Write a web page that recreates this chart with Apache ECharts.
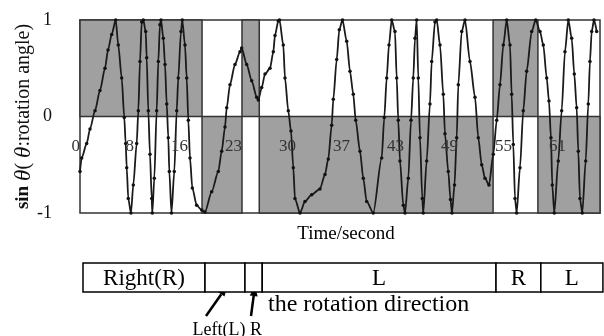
<!DOCTYPE html>
<html>
<head>
<meta charset="utf-8">
<script src="https://cdn.jsdelivr.net/npm/echarts@6/dist/echarts.min.js"></script>
<style>
  html, body { margin: 0; padding: 0; background: #fff; }
  #chart { width: 604px; height: 336px; }
</style>
</head>
<body>
<div id="chart"></div>
<script>
// x is measured in samples, 10 samples between two time labels
const xTickLabels = ['0', '8', '16', '23', '30', '37', '43', '49', '55', '61']
const yTickLabels = { '-1': '-1', '0': '0', '1': '1' }

// rotation direction changes (sample positions) and the direction of each part
const dirChanges = [0, 22.6, 30.0, 33.2, 76.5, 84.8, 96.3]
const dirNames = ['R', 'L', 'R', 'L', 'R', 'L']
const barLabels = ['Right(R)', '', '', 'L', 'R', 'L']

// sin(theta)
const sinTrace = [
  [0, -0.57], [0.31, -0.43], [1.24, -0.28], [1.85, -0.13], [2.78, 0.06], [3.70, 0.27], [4.63, 0.50], [5.19, 0.69], [5.87, 0.85], [6.61, 1.00],
  [7.09, 0.74], [7.72, 0.40], [8.20, -0.01], [8.46, -0.28], [8.65, -0.53], [8.94, -0.85], [9.44, -1.00],
  [9.87, -0.71], [10.50, -0.28], [10.80, 0.06], [11.11, 0.57], [11.43, 0.98], [11.72, 1.00],
  [12.17, 0.88], [12.35, 0.61], [12.65, 0.06], [12.96, -0.39], [13.28, -0.85], [13.39, -1.00],
  [13.76, -0.64], [14.20, 0.06], [14.50, 0.57], [14.81, 0.95], [15.00, 1.00],
  [15.43, 0.81], [15.74, 0.54], [16.06, 0.13], [16.35, -0.22], [16.54, -0.57], [16.94, -1.00],
  [17.46, -0.57], [17.91, 0.06], [18.20, 0.40], [18.70, 0.88], [18.94, 1.00],
  [19.44, 0.74], [19.76, 0.40], [20.06, -0.04], [20.37, -0.43], [20.80, -0.74], [21.61, -0.92], [22.54, -0.97], [23.15, -0.99],
  [24.39, -0.78], [25.61, -0.57], [26.24, -0.36], [26.85, -0.11], [27.17, 0.09], [27.78, 0.33], [28.70, 0.54], [29.63, 0.67], [29.94, 0.71],
  [30.87, 0.54], [31.80, 0.37], [32.72, 0.20], [33.02, 0.17],
  [33.65, 0.30], [34.26, 0.44], [35.19, 0.50], [35.80, 0.67], [36.11, 0.84], [36.72, 0.99], [36.94, 1.00],
  [37.65, 0.74], [37.96, 0.40], [38.57, 0.06], [39.07, -0.15], [39.50, -0.53], [39.81, -0.85], [40.74, -1.00],
  [41.67, -0.88], [42.91, -0.81], [44.44, -0.75], [45.37, -0.60], [45.98, -0.44], [46.61, -0.09], [46.91, 0.18], [47.54, 0.59], [48.02, 0.90], [48.61, 1.00],
  [49.39, 0.78], [50.00, 0.47], [50.61, 0.23], [51.06, -0.04], [51.85, -0.36], [52.46, -0.64], [53.09, -0.88], [54.31, -1.00],
  [55.87, -0.43], [56.35, -0.01], [56.80, 0.40], [57.22, 0.74], [57.72, 1.00],
  [58.33, 0.88], [58.65, 0.40], [58.94, -0.04], [59.26, -0.46], [59.87, -0.92], [60.19, -1.00],
  [60.80, -0.64], [61.30, -0.04], [61.72, 0.40], [62.04, 0.81], [62.35, 1.00],
  [62.65, 0.40], [62.96, -0.22], [63.39, -0.85], [63.57, -1.00],
  [64.20, -0.46], [64.81, 0.13], [65.13, 0.57], [65.74, 0.98], [66.06, 1.00],
  [66.67, 0.74], [67.28, 0.23], [67.59, -0.18], [68.20, -0.57], [68.61, -0.86], [68.89, -1.00],
  [69.35, -0.71], [69.76, -0.22], [70.06, 0.33], [70.69, 0.88], [71.30, 1.00],
  [72.22, 0.57], [73.15, 0.20], [73.76, -0.22], [74.39, -0.50], [75.00, -0.64], [75.74, -0.71],
  [76.54, -0.39], [77.17, -0.04], [77.78, 0.33], [78.39, 0.74], [79.02, 1.00],
  [79.63, 0.74], [79.94, 0.23], [80.24, -0.29], [80.56, -0.85], [80.87, -1.00],
  [81.48, -0.53], [82.09, 0.06], [82.72, 0.47], [83.65, 0.88], [84.39, 1.00],
  [85.19, 0.88], [85.80, 0.74], [86.43, 0.40], [86.85, 0.16], [87.22, -0.22], [87.46, -0.71], [87.83, -1.00],
  [88.57, -0.46], [89.20, 0.06], [89.81, 0.67], [90.43, 1.00],
  [91.06, 0.81], [91.54, 0.44], [91.98, 0.09], [92.28, -0.36], [92.59, -0.85], [93.02, -1.00],
  [93.65, -0.46], [94.13, 0.13], [94.44, 0.57], [94.76, 0.88], [95.19, 1.00], [95.69, 0.88]
]

const serif = '"Liberation Serif", "DejaVu Serif", serif'

// shaded half: upper half while turning right, lower half while turning left
const shadeAreas = dirNames.map((d, i) => {
  const a = dirChanges[i]
  const b = dirChanges[i + 1]
  return d === 'R'
    ? [{ xAxis: a, yAxis: 0 }, { xAxis: b, yAxis: 1 }]
    : [{ xAxis: a, yAxis: -1 }, { xAxis: b, yAxis: 0 }]
})

const barData = barLabels.map((t, i) => [dirChanges[i], dirChanges[i + 1], t])

function arrow(x1, y1, x2, y2) {
  const dx = x2 - x1
  const dy = y2 - y1
  const len = Math.sqrt(dx * dx + dy * dy)
  const ux = dx / len
  const uy = dy / len
  const bx = x2 - ux * 10
  const by = y2 - uy * 10
  return [
    { type: 'line', shape: { x1: x1, y1: y1, x2: bx, y2: by }, style: { stroke: '#000', lineWidth: 2.5 } },
    {
      type: 'polygon',
      shape: { points: [[x2, y2], [bx + uy * 4, by - ux * 4], [bx - uy * 4, by + ux * 4]] },
      style: { fill: '#000' }
    }
  ]
}

const myChart = echarts.init(document.getElementById('chart'))
const option = {
  animation: false,
  backgroundColor: '#fff',
  grid: [
    {
      left: 80, right: 4, top: 20, bottom: 123,
      outerBoundsMode: 'none', containLabel: false,
      show: true, borderColor: '#333', borderWidth: 1.5
    },
    { left: 83, right: 0, top: 263, height: 29, outerBoundsMode: 'none' }
  ],
  xAxis: [
    {
      type: 'value',
      min: 0,
      max: 96.3,
      interval: 10,
      z: 10,
      axisLine: { show: false, onZero: false },
      axisTick: { show: false },
      splitLine: { show: false },
      axisLabel: {
        inside: true,
        showMaxLabel: false,
        align: 'right',
        verticalAlign: 'middle',
        margin: 66,
        fontFamily: serif,
        fontSize: 17,
        color: '#333',
        formatter: v => (v % 10 === 0 ? xTickLabels[v / 10] || '' : '')
      }
    },
    { gridIndex: 1, type: 'value', min: 0, max: 96.5, show: false }
  ],
  yAxis: [
    {
      type: 'value',
      min: -1,
      max: 1,
      interval: 1,
      axisLine: { show: false },
      axisTick: { show: false },
      splitLine: { show: false },
      axisLabel: {
        margin: 28,
        fontFamily: serif,
        fontSize: 18,
        color: '#111',
        formatter: v => yTickLabels[String(v)]
      },
      name: '{b|sin} {t|θ}( {t|θ}:rotation angle)',
      nameLocation: 'middle',
      nameGap: 45,
      nameMoveOverlap: false,
      nameTextStyle: {
        fontFamily: serif,
        fontSize: 20,
        color: '#111',
        rich: {
          b: { fontFamily: serif, fontSize: 19, fontWeight: 'bold', color: '#111' },
          t: { fontFamily: serif, fontSize: 23, fontStyle: 'italic', color: '#111' }
        }
      }
    },
    { gridIndex: 1, type: 'value', min: 0, max: 1, show: false }
  ],
  series: [
    {
      name: 'sin',
      type: 'line',
      data: sinTrace,
      smooth: 0.25,
      smoothMonotone: 'x',
      showAllSymbol: true,
      symbol: 'circle',
      symbolSize: 3.5,
      itemStyle: { color: '#111' },
      lineStyle: { color: '#1a1a1a', width: 1.8 },
      markArea: {
        silent: true,
        itemStyle: { color: '#a0a0a0', borderColor: '#333', borderWidth: 1.5 },
        data: shadeAreas
      },
      z: 3
    },
    {
      name: 'direction',
      type: 'custom',
      xAxisIndex: 1,
      yAxisIndex: 1,
      data: barData,
      renderItem: (params, api) => {
        const p0 = api.coord([api.value(0), 1])
        const p1 = api.coord([api.value(1), 0])
        const label = barLabels[params.dataIndex]
        return {
          type: 'group',
          children: [
            {
              type: 'rect',
              shape: { x: p0[0], y: p0[1], width: p1[0] - p0[0], height: p1[1] - p0[1] },
              style: { fill: '#fff', stroke: '#000', lineWidth: 1.5 }
            },
            {
              type: 'text',
              style: {
                text: label,
                x: (p0[0] + p1[0]) / 2,
                y: (p0[1] + p1[1]) / 2 + 1,
                align: 'center',
                verticalAlign: 'middle',
                font: '23px ' + serif,
                fill: '#000'
              }
            }
          ]
        }
      }
    }
  ],
  graphic: [
    {
      type: 'text',
      style: { text: 'Time/second', x: 346, y: 234, align: 'center', verticalAlign: 'middle', font: '19px ' + serif, fill: '#000' }
    },
    {
      type: 'text',
      style: { text: 'the rotation direction', x: 268, y: 305, align: 'left', verticalAlign: 'middle', font: '24px ' + serif, fill: '#000' }
    },
    {
      type: 'text',
      style: { text: 'Left(L)', x: 219, y: 330, align: 'center', verticalAlign: 'middle', font: '18px ' + serif, fill: '#000' }
    },
    {
      type: 'text',
      style: { text: 'R', x: 256, y: 330, align: 'center', verticalAlign: 'middle', font: '18px ' + serif, fill: '#000' }
    }
  ]
    .concat(arrow(206, 316, 227, 286))
    .concat(arrow(251, 316, 255, 286))
}
myChart.setOption(option)
</script>
</body>
</html>
